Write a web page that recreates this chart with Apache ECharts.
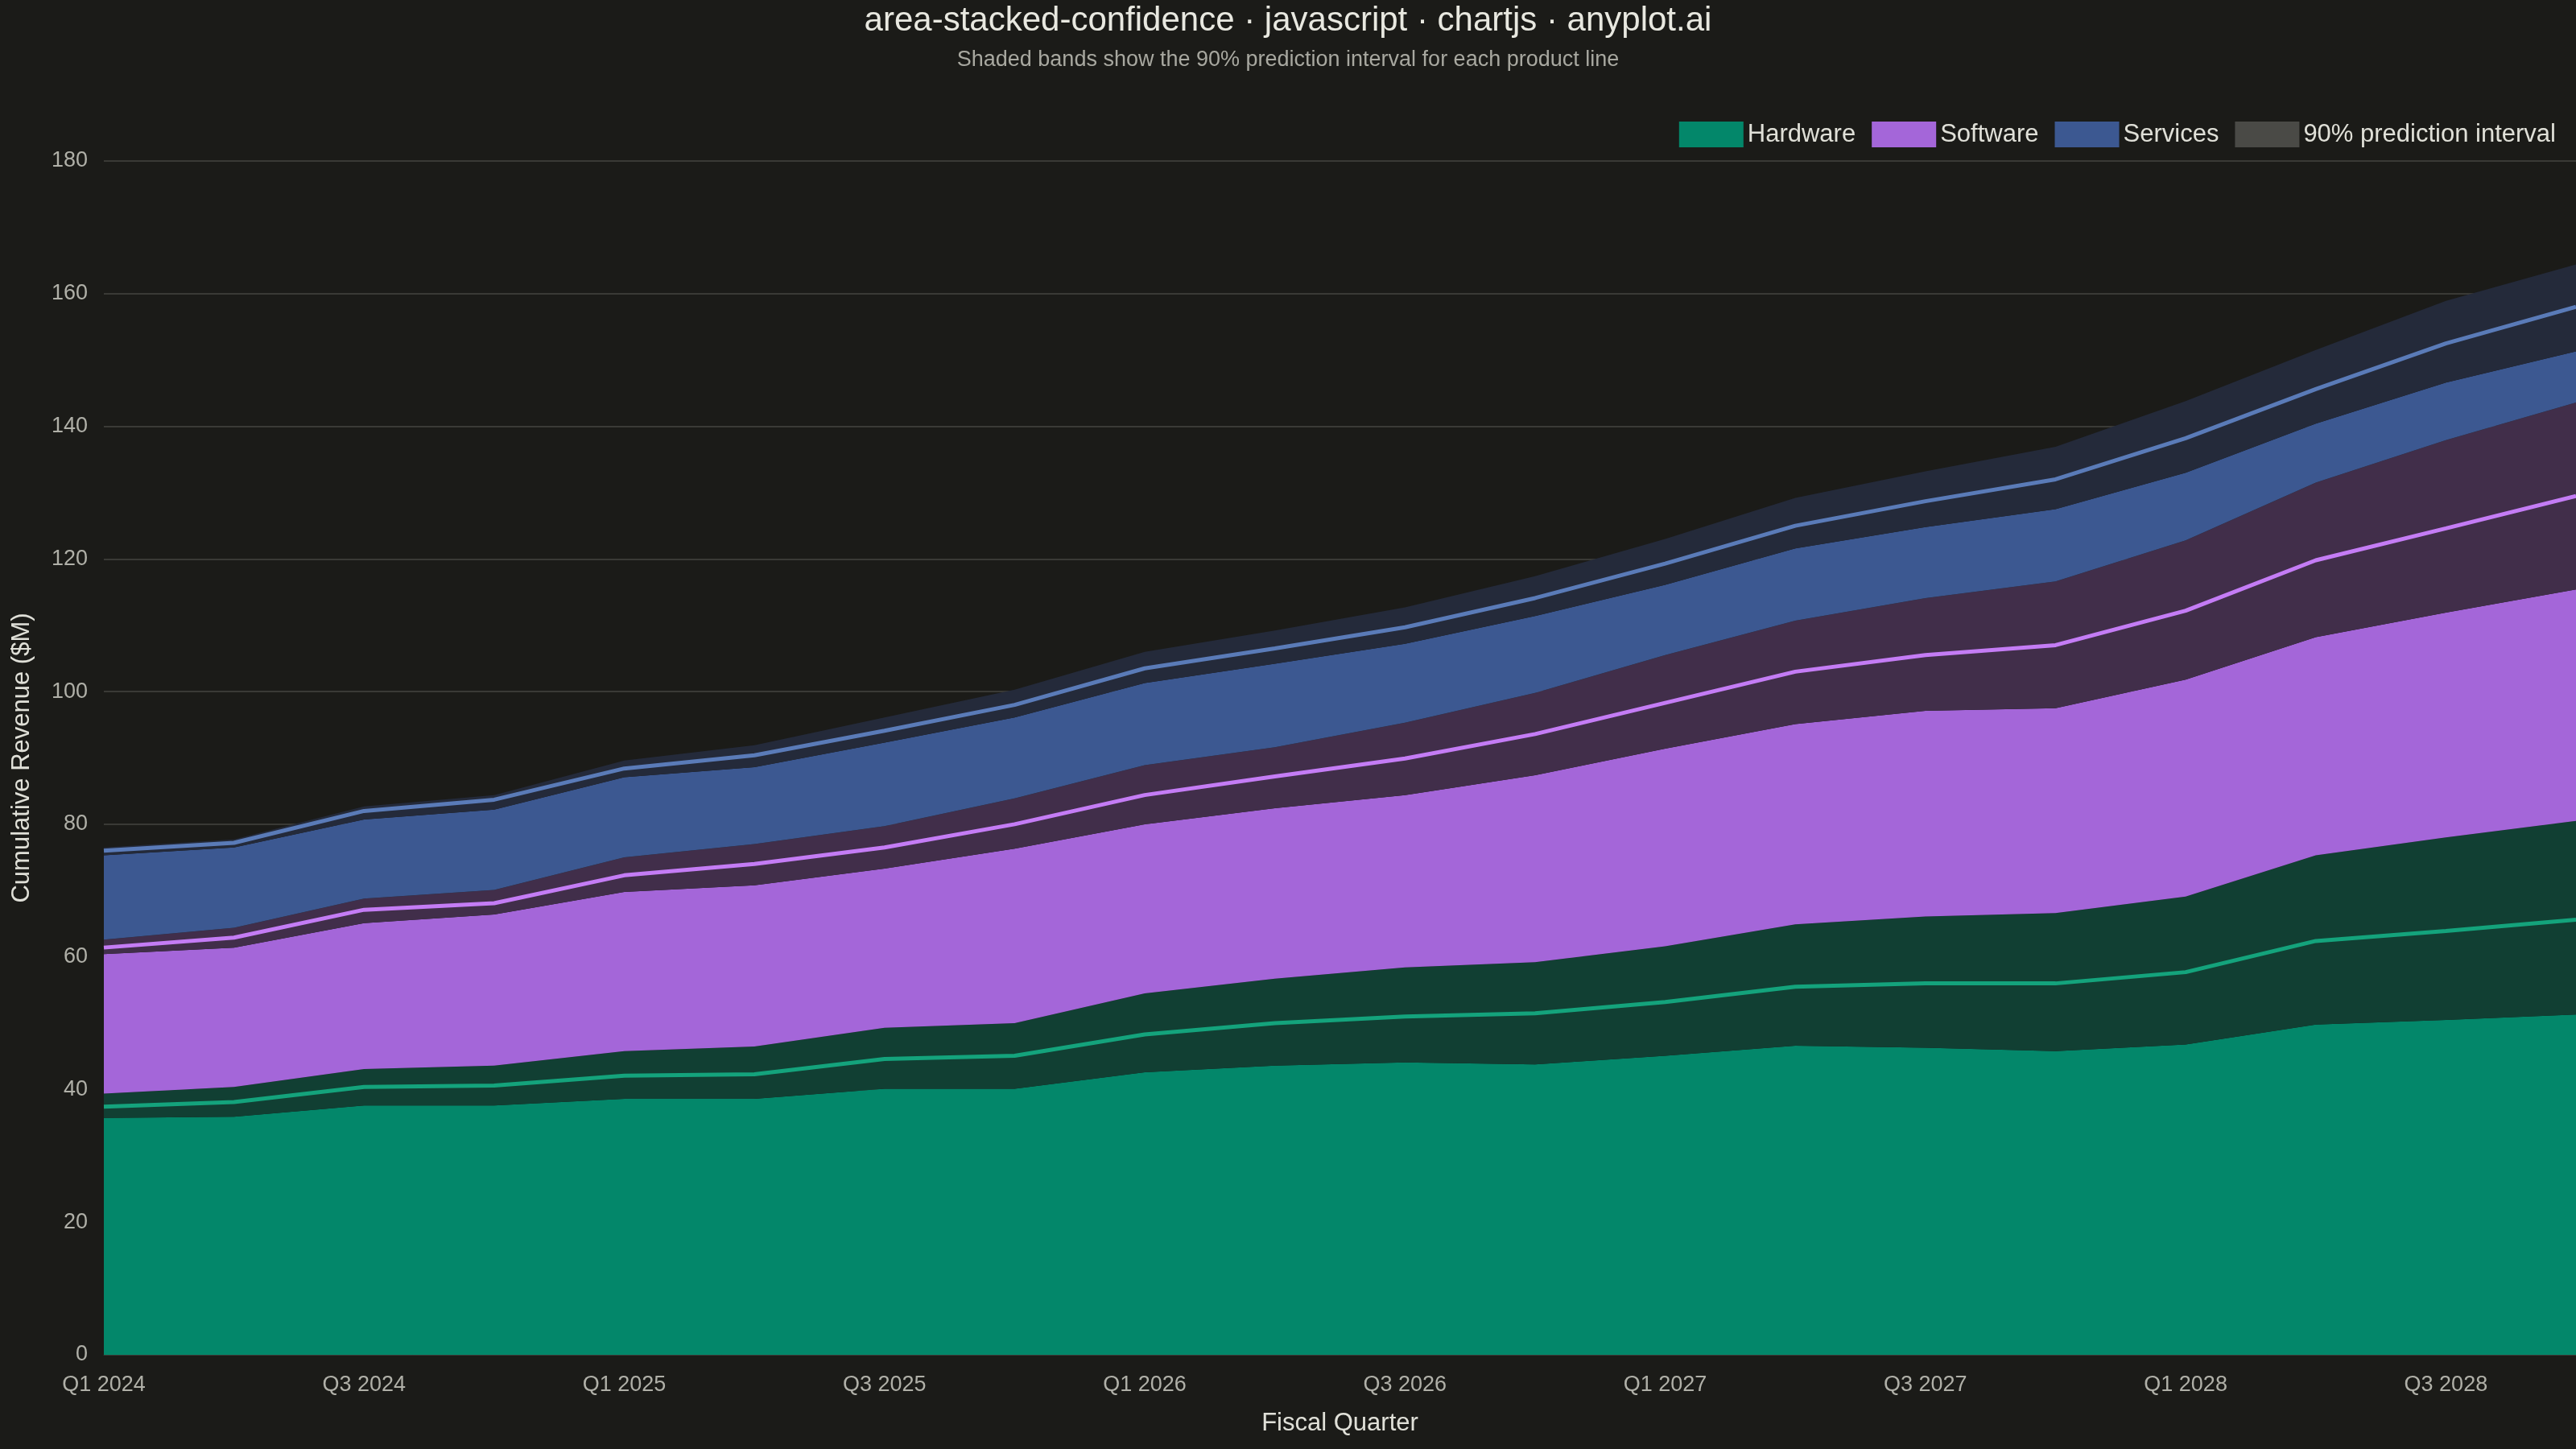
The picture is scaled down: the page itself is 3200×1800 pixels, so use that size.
<!DOCTYPE html>
<html><head><meta charset="utf-8">
<script src="https://cdn.jsdelivr.net/npm/echarts@6/dist/echarts.min.js"></script>
<style>html,body{margin:0;background:#1b1b18}#c{width:3200px;height:1800px}</style>
</head><body><div id="c"></div>
<script>
const quarters = [];
for (let y = 2024; y <= 2028; y++) for (let q = 1; q <= 4; q++) quarters.push('Q' + q + ' ' + y);

const hwMid = [37.4,38.1,40.4,40.6,42.1,42.3,44.6,45.1,48.3,50.0,51.0,51.5,53.2,55.5,56.0,56.0,57.7,62.4,63.9,65.6];
const hwLow = [35.7,35.9,37.6,37.6,38.6,38.6,40.1,40.1,42.6,43.6,44.1,43.8,45.1,46.6,46.3,45.8,46.8,49.8,50.5,51.3];
const hwHigh = [39.4,40.4,43.1,43.6,45.8,46.5,49.3,50.0,54.5,56.7,58.4,59.2,61.6,64.9,66.1,66.6,69.1,75.3,78.0,80.5];
const swMid = [61.4,62.9,67.1,68.1,72.3,74.0,76.5,80.0,84.4,87.2,89.9,93.6,98.3,103.0,105.5,107.0,112.2,119.8,124.6,129.5];
const swLow = [60.4,61.4,65.1,66.4,69.8,70.8,73.3,76.3,80.0,82.4,84.4,87.4,91.4,95.1,97.1,97.5,101.8,108.2,111.9,115.4];
const swHigh = [62.6,64.4,68.8,70.1,75.0,77.0,79.7,83.9,88.9,91.6,95.3,99.8,105.5,110.7,114.1,116.6,122.8,131.5,137.9,143.6];
const svMid = [76.0,77.2,82.0,83.7,88.4,90.4,94.1,98.0,103.5,106.5,109.7,114.1,119.3,125.0,128.7,132.0,138.2,145.6,152.5,158.0];
const svLow = [75.3,76.5,80.7,82.2,87.1,88.6,92.3,96.1,101.3,104.2,107.2,111.4,116.1,121.6,124.8,127.5,133.0,140.4,146.6,151.3];
const svHigh = [76.5,77.7,82.7,84.4,89.6,91.9,96.1,100.3,106.0,109.2,112.7,117.4,123.0,129.2,133.2,136.9,143.8,151.5,158.9,164.4];

const diff = (a, b) => a.map((v, i) => +(v - b[i]).toFixed(2));
const layers = [
  ['Hardware', hwLow, '#03876a'],
  ['hwBand', diff(hwHigh, hwLow), '#113f33'],
  ['Software', diff(swLow, hwHigh), '#a466d9'],
  ['swBand', diff(swHigh, swLow), '#412e4a'],
  ['Services', diff(svLow, swHigh), '#3c5891'],
  ['svBand', diff(svHigh, svLow), '#242a3a']
];
const series = layers.map(([n, d, c]) => ({
  name: n, type: 'line', stack: 'a', data: d, symbol: 'none', color: c,
  lineStyle: { width: 0 }, areaStyle: { color: c, opacity: 1 }, silent: true
}));
[[hwMid, '#14a37c'], [swMid, '#c47cf5'], [svMid, '#5a7bb8']].forEach(([d, c]) => series.push({
  name: 'line' + c, type: 'line', data: d, symbol: 'none', color: c, lineStyle: { width: 5, color: c }, z: 5
}));
series.push({ name: '90% prediction interval', type: 'line', data: [], color: '#4a4a46' });

const chart = echarts.init(document.getElementById('c'));
chart.setOption({
  backgroundColor: '#1b1b18',
  animation: false,
  title: {
    text: 'area-stacked-confidence · javascript · chartjs · anyplot.ai',
    subtext: 'Shaded bands show the 90% prediction interval for each product line',
    left: 'center', top: 0, itemGap: 14,
    textStyle: { color: '#e8e8e0', fontSize: 42, fontWeight: 'normal', fontFamily: 'Liberation Sans' },
    subtextStyle: { color: '#a8a8a0', fontSize: 27, fontFamily: 'Liberation Sans' }
  },
  legend: {
    data: ['Hardware', 'Software', 'Services', '90% prediction interval'],
    right: 20, top: 146, itemWidth: 80, itemHeight: 32, itemGap: 20,
    icon: 'rect',
    textStyle: { color: '#e0e0d8', fontSize: 31, fontFamily: 'Liberation Sans' }
  },
  grid: { left: 129, right: 0, top: 200, bottom: 117 },
  xAxis: {
    type: 'category', data: quarters, boundaryGap: false,
    name: 'Fiscal Quarter', nameLocation: 'middle', nameGap: 70,
    nameTextStyle: { color: '#e0e0d8', fontSize: 31, fontFamily: 'Liberation Sans' },
    axisLine: { lineStyle: { color: '#3a3a36' } }, axisTick: { show: false },
    axisLabel: { interval: 1, color: '#b0b0a8', fontSize: 27, margin: 24, fontFamily: 'Liberation Sans' }
  },
  yAxis: {
    type: 'value', min: 0, max: 180, interval: 20,
    name: 'Cumulative Revenue ($M)', nameLocation: 'middle', nameGap: 86,
    nameTextStyle: { color: '#e0e0d8', fontSize: 31, fontFamily: 'Liberation Sans' },
    splitLine: { lineStyle: { color: '#3a3a36', width: 2 } },
    axisLabel: { color: '#b0b0a8', fontSize: 27, margin: 20, fontFamily: 'Liberation Sans' }
  },
  series
});
</script></body></html>
